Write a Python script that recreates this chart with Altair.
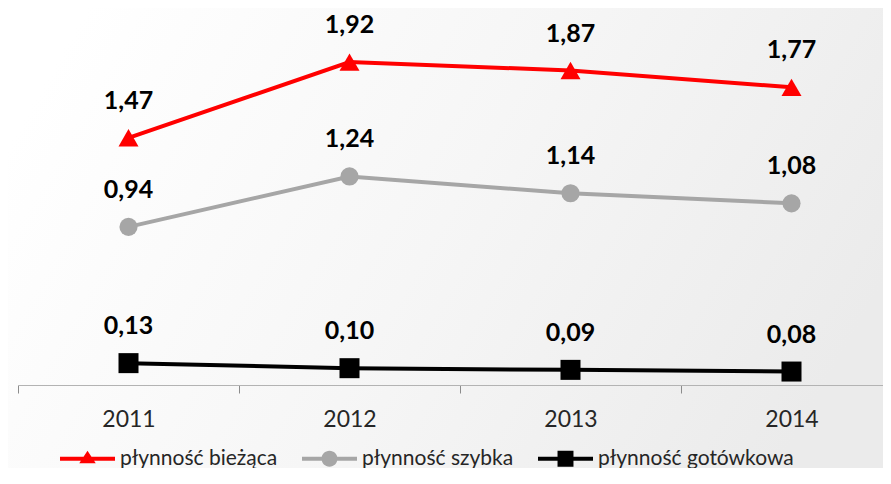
import altair as alt
import pandas as pd

years = ["2011", "2012", "2013", "2014"]
series = ["płynność bieżąca", "płynność szybka", "płynność gotówkowa"]
biezaca = [1.47, 1.92, 1.87, 1.77]
szybka = [0.94, 1.24, 1.14, 1.08]
gotowkowa = [0.13, 0.10, 0.09, 0.08]
colors = ["#FF0000", "#A6A6A6", "#000000"]
marker_shapes = ["triangle-up", "circle", "square"]
marker_sizes = [400, 330, 400]

# legend symbols: line segment + marker (unit coords)
legend_paths = [
    "M-1,-0.07H1V0.07H-1Z M0,-0.29L0.3,0.16L-0.3,0.16Z",
    "M-1,-0.07H1V0.07H-1Z M-0.29,0A0.29,0.29 0 1,1 0.29,0A0.29,0.29 0 1,1 -0.29,0Z",
    "M-1,-0.07H1V0.07H-1Z M-0.29,-0.29H0.29V0.29H-0.29Z",
]

rows = []
for s, vals in zip(series, [biezaca, szybka, gotowkowa]):
    for y, v in zip(years, vals):
        rows.append({"year": y, "series": s, "value": v})
df = pd.DataFrame(rows)

W, H = 865, 370
PAD_B = 83
FONT = "Lato"

x_enc = alt.X(
    "year:N",
    sort=years,
    scale=alt.Scale(range=[0, 884], paddingInner=0, paddingOuter=0),
    axis=alt.Axis(
        title=None, labelAngle=0, domainColor="#b3b3b3", tickColor="#8c8c8c",
        tickSize=8, tickBand="extent", labelFont=FONT, labelFontSize=23,
        labelColor="#262626", labelPadding=15, grid=False, zindex=2,
    ),
)
y_enc = alt.Y("value:Q", scale=alt.Scale(domain=[0, 2.2], nice=False), axis=None)

bg = alt.Chart(alt.Data(values=[{"a": 1}])).mark_rect(
    color=alt.Gradient(
        gradient="linear",
        stops=[alt.GradientStop(color="#ffffff", offset=0),
               alt.GradientStop(color="#f6f6f6", offset=0.5),
               alt.GradientStop(color="#ebebeb", offset=1)],
        x1=0, x2=1, y1=0.3, y2=0.6,
    )
).encode(x=alt.value(-10), x2=alt.value(W), y=alt.value(-7), y2=alt.value(H + PAD_B))

base = alt.Chart(df)

line_layers = []
marker_layers = []
for s, c, sh, sz in zip(series, colors, marker_shapes, marker_sizes):
    sub = base.transform_filter(alt.datum.series == s)
    line_layers.append(sub.mark_line(strokeWidth=4, color=c).encode(x=x_enc, y=y_enc))
    marker_layers.append(
        sub.mark_point(shape=sh, filled=True, size=sz, color=c, opacity=1)
        .encode(x=x_enc, y=y_enc)
    )

labels = base.transform_calculate(
    label="replace(format(datum.value, '.2f'), '.', ',')"
).mark_text(font=FONT, fontSize=25, fontWeight="bold", color="#000000",
            baseline="middle", dy=-37).encode(x=x_enc, y=y_enc, text="label:N")

leg = alt.Legend(
    orient="none", legendX=42, legendY=416, direction="horizontal",
    symbolSize=3025, labelOffset=5, columnPadding=24, padding=0,
    labelFont=FONT, labelFontSize=21, labelColor="#262626",
    symbolStrokeWidth=0, labelLimit=400, zindex=2,
)
legend_layer = base.transform_filter("false").mark_point(filled=True, opacity=1).encode(
    x=x_enc, y=y_enc,
    fill=alt.Fill("series:N", scale=alt.Scale(domain=series, range=colors), legend=leg, title=None),
    shape=alt.Shape("series:N", scale=alt.Scale(domain=series, range=legend_paths), legend=leg, title=None),
)

chart = alt.layer(bg, *line_layers, *marker_layers, labels, legend_layer).properties(
    width=W, height=H,
    autosize=alt.AutoSizeParams(type="none"),
    padding={"left": 10, "top": 7, "right": 0, "bottom": PAD_B},
).configure_view(stroke=None)

chart.save("out.html", embed_options={"renderer": "svg", "actions": False})
